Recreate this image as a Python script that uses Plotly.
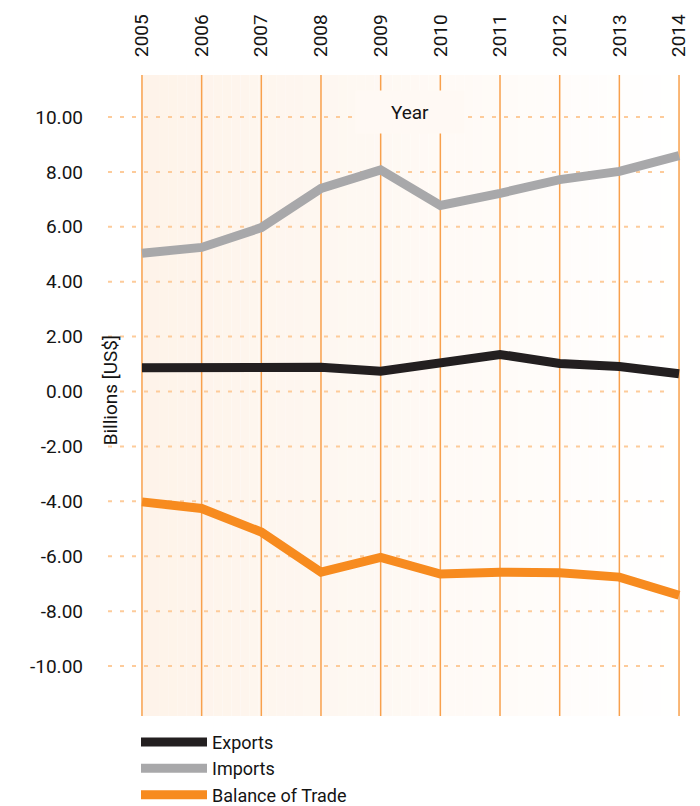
import plotly.graph_objects as go

years = [2005, 2006, 2007, 2008, 2009, 2010, 2011, 2012, 2013, 2014]
exports = [0.87, 0.87, 0.88, 0.88, 0.74, 1.02, 1.35, 1.02, 0.91, 0.65]
imports = [5.04, 5.25, 5.97, 7.40, 8.07, 6.78, 7.22, 7.72, 8.02, 8.59]
balance = [-4.02, -4.26, -5.12, -6.58, -6.04, -6.65, -6.58, -6.60, -6.76, -7.42]

y_ticks = [-10, -8, -6, -4, -2, 0, 2, 4, 6, 8, 10]
y_ticktext = [f"{v:.2f}" for v in y_ticks]

series = [
    ("Exports", exports, "#231F20"),
    ("Imports", imports, "#A8A8AA"),
    ("Balance of Trade", balance, "#F78B1F"),
]

FONT = "Roboto"
TXT = "#141414"
FS = 19

fig = go.Figure()
for name, vals, col in series:
    fig.add_trace(go.Scatter(
        x=years, y=vals, name=name, mode="lines",
        line=dict(color=col, width=9),
    ))

shapes = []
# background gradient (left light orange -> right white)
n = 60
c0 = (254, 243, 233)
c1 = (255, 255, 255)
x_start, x_end = years[0], years[-1]
for i in range(n):
    t = (i + 0.5) / n
    r = round(c0[0] + (c1[0] - c0[0]) * t)
    g = round(c0[1] + (c1[1] - c0[1]) * t)
    b = round(c0[2] + (c1[2] - c0[2]) * t)
    xa = x_start + (x_end - x_start) * i / n
    xb = x_start + (x_end - x_start) * (i + 1) / n
    shapes.append(dict(type="rect", xref="x", yref="paper", x0=xa, x1=xb, y0=0, y1=1,
                       fillcolor=f"rgb({r},{g},{b})", line=dict(width=0), layer="below"))
# horizontal dashed grid lines (extend left of the first year)
for v in y_ticks:
    shapes.append(dict(type="line", xref="paper", yref="y", x0=-0.051, x1=0.9636, y0=v, y1=v,
                       line=dict(color="#FDCB9A", width=2, dash="4px,8px"), layer="below"))
# vertical year lines
for yr in years:
    shapes.append(dict(type="line", xref="x", yref="paper", x0=yr, x1=yr, y0=0, y1=1,
                       line=dict(color="#F8A04C", width=1.5), layer="below"))

fig.update_layout(
    width=692, height=798,
    margin=dict(l=128, r=15, t=67, b=90, autoexpand=False),
    paper_bgcolor="white", plot_bgcolor="rgba(0,0,0,0)",
    font=dict(family=FONT, size=FS, color=TXT),
    shapes=shapes,
    showlegend=True,
    legend=dict(
        orientation="v", x=0, xanchor="left", y=-0.012, yanchor="top",
        font=dict(family=FONT, size=18, color=TXT),
        itemwidth=66, bgcolor="rgba(0,0,0,0)", tracegroupgap=0,
    ),
    annotations=[
        dict(text="Year", xref="x", yref="y", x=2009.49, y=10.18, showarrow=False,
             width=106, height=40, bgcolor="#FFF9F4",
             font=dict(family=FONT, size=FS, color=TXT)),
        dict(text="Billions [US$]", xref="paper", yref="y", x=-0.047, y=0.05,
             textangle=-90, showarrow=False, xanchor="center", yanchor="middle",
             font=dict(family=FONT, size=FS, color=TXT)),
    ],
)
fig.update_xaxes(
    range=[2004.9, 2014.1], side="top", tickmode="array", tickvals=years,
    ticktext=[str(y) for y in years], tickangle=-90, showgrid=False, zeroline=False,
    showline=False, ticks="", ticklabelstandoff=17, automargin=False,
    tickfont=dict(family=FONT, size=FS, color=TXT),
)
fig.update_yaxes(
    range=[-11.82, 11.53], tickmode="array", tickvals=y_ticks, ticktext=y_ticktext,
    showgrid=False, zeroline=False, showline=False, ticks="", ticklabelstandoff=52,
    automargin=False,
    tickfont=dict(family=FONT, size=FS, color=TXT),
)

fig.write_html("out.html")
